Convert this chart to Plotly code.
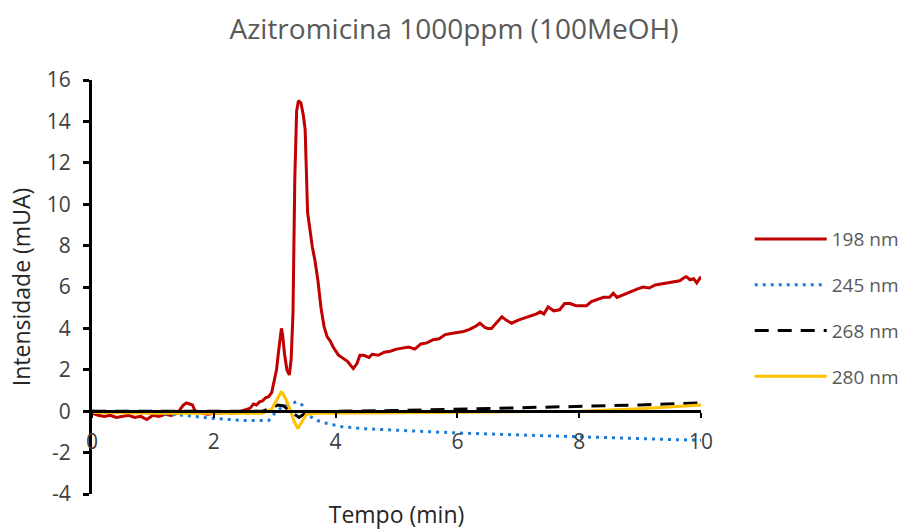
import plotly.graph_objects as go

title_text = "Azitromicina 1000ppm (100MeOH)"
x_title = "Tempo (min)"
y_title = "Intensidade (mUA)"

# 198 nm
t198 = [0.0, 0.1, 0.2, 0.3, 0.4, 0.5, 0.6, 0.7, 0.8, 0.9, 1.0, 1.1, 1.2, 1.3, 1.4, 1.45, 1.5, 1.55, 1.6, 1.65,
        1.7, 1.8, 1.9, 2.0, 2.1, 2.2, 2.3, 2.4, 2.5, 2.6, 2.65, 2.7, 2.75, 2.8, 2.85, 2.9, 2.95, 3.0, 3.03, 3.06,
        3.09, 3.11, 3.13, 3.16, 3.2, 3.24, 3.27, 3.3, 3.33, 3.36, 3.39, 3.43, 3.47, 3.5, 3.54, 3.58, 3.62, 3.66,
        3.71, 3.76, 3.81, 3.86, 3.91, 3.96, 4.0, 4.05, 4.1, 4.15, 4.2, 4.25, 4.29, 4.35, 4.4, 4.46, 4.55, 4.6,
        4.7, 4.8, 4.9, 5.0, 5.1, 5.2, 5.3, 5.4, 5.5, 5.6, 5.7, 5.8, 5.9, 6.0, 6.1, 6.2, 6.3, 6.37, 6.45, 6.5,
        6.56, 6.65, 6.73, 6.8, 6.89, 7.0, 7.1, 7.2, 7.3, 7.36, 7.42, 7.49, 7.58, 7.68, 7.76, 7.85, 7.95, 8.05,
        8.12, 8.2, 8.3, 8.4, 8.5, 8.56, 8.62, 8.7, 8.78, 8.85, 8.95, 9.05, 9.15, 9.25, 9.35, 9.45, 9.55, 9.65,
        9.72, 9.76, 9.82, 9.88, 9.93, 10.0]
v198 = [-0.1, -0.2, -0.25, -0.2, -0.3, -0.25, -0.2, -0.3, -0.25, -0.4, -0.2, -0.25, -0.15, -0.2, -0.1, 0.1, 0.3, 0.4, 0.35, 0.3,
        -0.05, -0.1, -0.15, -0.1, -0.1, -0.05, -0.1, -0.05, 0.05, 0.15, 0.35, 0.3, 0.45, 0.5, 0.65, 0.7, 0.9, 1.5, 2.0, 2.8,
        3.6, 4.0, 3.7, 2.8, 2.0, 1.75, 2.5, 4.7, 11.2, 14.5, 15.0, 14.9, 14.3, 13.6, 9.6, 8.7, 7.9, 7.3,
        6.3, 5.0, 4.1, 3.6, 3.4, 3.1, 2.9, 2.7, 2.6, 2.5, 2.4, 2.2, 2.06, 2.3, 2.7, 2.7, 2.6, 2.75,
        2.7, 2.85, 2.9, 3.0, 3.05, 3.1, 3.0, 3.25, 3.3, 3.45, 3.5, 3.7, 3.75, 3.8, 3.85, 3.95, 4.1, 4.25, 4.05, 4.0,
        4.0, 4.3, 4.56, 4.4, 4.25, 4.4, 4.5, 4.6, 4.7, 4.8, 4.7, 5.04, 4.85, 4.9, 5.2, 5.2, 5.1, 5.1,
        5.1, 5.3, 5.4, 5.5, 5.5, 5.7, 5.5, 5.6, 5.7, 5.8, 5.9, 6.0, 5.95, 6.1, 6.15, 6.2, 6.25, 6.3,
        6.45, 6.5, 6.35, 6.4, 6.2, 6.5]

# 245 nm
t245 = [0, 0.5, 1.0, 1.5, 2.0, 2.5, 2.9, 3.0, 3.1, 3.2, 3.3, 3.36, 3.45, 3.55, 3.7, 3.85, 4.1, 4.5, 5.0, 5.5,
        6.0, 6.5, 7.0, 7.5, 8.0, 8.5, 9.0, 9.5, 10]
v245 = [0, -0.05, -0.1, -0.2, -0.35, -0.45, -0.45, -0.1, 0.15, 0.3, 0.4, 0.45, 0.3, -0.2, -0.45, -0.58, -0.75, -0.85, -0.92, -1.0,
        -1.05, -1.1, -1.15, -1.2, -1.24, -1.3, -1.33, -1.37, -1.4]

# 268 nm
t268 = [0, 1, 2, 2.8, 2.95, 3.05, 3.15, 3.25, 3.35, 3.4, 3.5, 3.7, 4, 5, 6, 7, 8, 9, 10]
v268 = [0, 0, -0.02, 0, 0.15, 0.3, 0.25, 0.0, -0.2, -0.3, -0.1, -0.05, 0, 0.03, 0.1, 0.15, 0.22, 0.3, 0.4]

# 280 nm
t280 = [0, 1, 2, 2.8, 2.95, 3.05, 3.11, 3.18, 3.25, 3.32, 3.38, 3.45, 3.52, 3.7, 4, 5, 6, 7, 8, 9, 10]
v280 = [-0.05, -0.1, -0.1, -0.1, 0.1, 0.6, 0.95, 0.6, 0.1, -0.5, -0.84, -0.5, -0.15, -0.1, -0.1, -0.08, -0.05, -0.03, 0.0, 0.12, 0.3]

x_ticks = [0, 2, 4, 6, 8, 10]
y_ticks = [-4, -2, 0, 2, 4, 6, 8, 10, 12, 14, 16]

FONT = "Open Sans"
series = [
    ("198 nm", t198, v198, dict(color="#C00000", width=3)),
    ("245 nm", t245, v245, dict(color="#1F7BD6", width=3, dash="3px,5px")),
    ("268 nm", t268, v268, dict(color="#000000", width=3, dash="14px,9px")),
    ("280 nm", t280, v280, dict(color="#FFC000", width=3)),
]

fig = go.Figure()
for name, t, v, line in series:
    fig.add_trace(go.Scatter(x=t, y=v, mode="lines", name=name, line=line,
                             legendgroup=name))

fig.update_layout(
    width=908, height=530,
    margin=dict(l=92, r=207, t=80, b=36, autoexpand=False),
    paper_bgcolor="white", plot_bgcolor="white",
    font=dict(family=FONT, color="#404040", size=20),
    title=dict(text=title_text, x=0.5, xanchor="center", xref="container",
               y=0.945, yanchor="middle",
               font=dict(family=FONT, size=28, color="#595959")),
    showlegend=True,
    legend=dict(x=1.08, xanchor="left", y=0.45, yanchor="middle",
                font=dict(family=FONT, size=19, color="#595959"),
                itemwidth=72,
                tracegroupgap=18, bgcolor="rgba(0,0,0,0)"),
    xaxis=dict(range=[0, 10], tickvals=x_ticks, ticktext=[str(v) for v in x_ticks],
               showgrid=False, zeroline=False, showline=True, linecolor="black", linewidth=3,
               ticks="outside", ticklen=5, tickwidth=2, tickcolor="black",
               anchor="free", position=0.2, ticklabelstandoff=6,
               tickfont=dict(family=FONT, size=21, color="#404040"),
               title=dict(text=x_title, font=dict(family=FONT, size=23, color="#262626"), standoff=55)),
    yaxis=dict(range=[-4, 16], tickvals=y_ticks, ticktext=[str(v) for v in y_ticks],
               showgrid=False, zeroline=False, showline=True, linecolor="black", linewidth=3,
               ticks="outside", ticklen=6, tickwidth=3, tickcolor="black",
               ticklabelstandoff=8,
               tickfont=dict(family=FONT, size=21, color="#404040"),
               title=dict(text=y_title, font=dict(family=FONT, size=23, color="#262626"), standoff=10)),
)

fig.write_html("out.html")
